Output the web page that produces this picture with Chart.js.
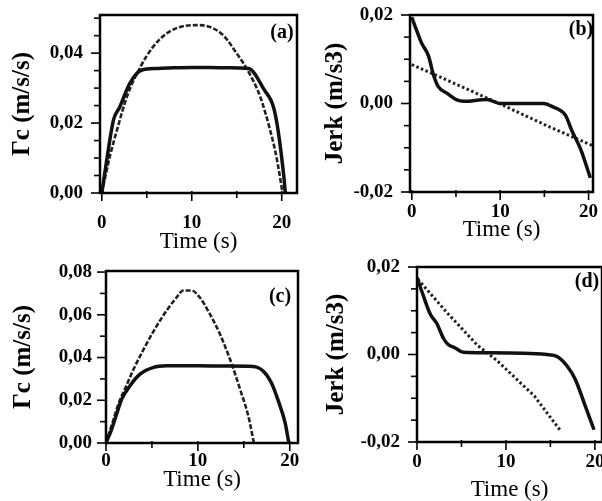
<!DOCTYPE html>
<html lang="en">
<head>
  <meta charset="UTF-8">
  <title>Γc and Jerk vs Time</title>
  <script src="https://cdn.jsdelivr.net/npm/chart.js"></script>
  <style>
    html, body { margin: 0; padding: 0; background: #fff; overflow: hidden; }
    .wrap { position: relative; width: 602px; height: 501px; }
    canvas { position: absolute; }
  </style>
</head>
<body>
  <div class="wrap">
    <canvas id="chartA" width="301" height="256" style="left:0;top:0"></canvas>
    <canvas id="chartB" width="301" height="250" style="left:301px;top:0"></canvas>
    <canvas id="chartC" width="301" height="251" style="left:0;top:250px"></canvas>
    <canvas id="chartD" width="301" height="256" style="left:301px;top:250px"></canvas>
  </div>

  <script>
    // (a) Γc, case 1
    const tSolidA = [0, 0.55, 1.3, 2.0, 3.1, 4.4, 6.1, 8, 10, 12, 14, 16.3, 17.96, 19.3, 20.2, 20.4];
    const gSolidA = [0, 0.0094, 0.0209, 0.0246, 0.0313, 0.0351, 0.0356, 0.0358, 0.0359, 0.0359, 0.0358, 0.0356, 0.0299, 0.0223, 0.0056, 0];
    const tDashA = [0, 0.9, 1.7, 2.8, 4.3, 5.7, 7.2, 8.7, 10.6, 12.0, 13.5, 15.0, 16.3, 17.6, 18.7, 19.4, 20.1];
    const gDashA = [0, 0.0105, 0.0181, 0.0276, 0.0361, 0.0418, 0.0456, 0.0475, 0.048, 0.0475, 0.0451, 0.0399, 0.0347, 0.0276, 0.0181, 0.0105, 0];

    // (b) Jerk, case 1
    const tSolidB = [0, 0.57, 1.1, 1.9, 2.45, 3.0, 4.0, 5.1, 5.85, 8.5, 10, 14.9, 16.0, 17.4, 18.1, 19.1, 20.2];
    const jSolidB = [0.0195, 0.0164, 0.0137, 0.0107, 0.0065, 0.0038, 0.0023, 0.0008, 0.0005, 0.0009, 0, 0, -0.0008, -0.0027, -0.0061, -0.0103, -0.0168];
    const tDotB = [0, 4.3, 10, 15.7, 20.4];
    const jDotB = [0.0088, 0.005, -0.0001, -0.0054, -0.0095];

    // (c) Γc, case 2
    const tSolidC = [0, 0.6, 1.2, 1.7, 2.6, 3.7, 5.1, 6.6, 10, 13, 16.0, 17.1, 18.0, 18.7, 19.5, 19.9];
    const gSolidC = [0, 0.0063, 0.0141, 0.0204, 0.0267, 0.0322, 0.0353, 0.0361, 0.0361, 0.036, 0.0358, 0.0337, 0.0282, 0.0204, 0.0094, 0];
    const tDashC = [0, 0.7, 1.4, 2.2, 3.0, 4.1, 5.2, 6.6, 7.7, 8.4, 9.3, 10.2, 11.3, 12.4, 13.5, 14.6, 15.5, 16.1];
    const gDashC = [0, 0.0094, 0.0188, 0.0267, 0.0345, 0.0439, 0.0525, 0.062, 0.0682, 0.0714, 0.0714, 0.0682, 0.0604, 0.051, 0.0392, 0.0251, 0.0125, 0];

    // (d) Jerk, case 2
    const tSolidD = [0, 0.7, 1.5, 2.2, 3.0, 3.5, 4.3, 5.2, 7.8, 14.6, 15.8, 16.9, 17.8, 18.8, 19.9];
    const jSolidD = [0.0176, 0.0135, 0.0092, 0.0072, 0.0036, 0.0023, 0.0015, 0.0005, 0.0004, 0, -0.0005, -0.0027, -0.0057, -0.0111, -0.0172];
    const tDotD = [0.1, 3.4, 6.8, 9.0, 13.2, 16.2];
    const jDotD = [0.0172, 0.0095, 0.0021, -0.0014, -0.0095, -0.0176];

    // ticks
    const xTicks = [0, 5, 10, 15, 20];
    const xLabels = [0, 10, 20];
    const yTicksA = [0, 0.005, 0.01, 0.015, 0.02, 0.025, 0.03, 0.035, 0.04, 0.045, 0.05];
    const yLabelsA = [0, 0.02, 0.04];
    const yTicksC = [0, 0.01, 0.02, 0.03, 0.04, 0.05, 0.06, 0.07, 0.08];
    const yLabelsC = [0, 0.02, 0.04, 0.06, 0.08];
    const yTicksJ = [-0.02, -0.015, -0.01, -0.005, 0, 0.005, 0.01, 0.015, 0.02];
    const yLabelsJ = [-0.02, 0, 0.02];

    const serif = '"Liberation Serif", "Times New Roman", serif';

    const pts = (ts, vs) => ts.map((t, i) => ({ x: t, y: vs[i] }));
    const fmt = v => v.toFixed(2).replace('.', ',');

    // box around the plot, outward tick marks, panel letter
    function makeFrame(p) {
      return {
        id: 'frame',
        afterDraw(chart) {
          const { ctx, chartArea: a } = chart;
          const sx = chart.scales.x, sy = chart.scales.y;
          ctx.save();
          ctx.setLineDash([]);
          ctx.strokeStyle = '#000';
          ctx.lineWidth = 1.6;
          xTicks.forEach(v => {
            const px = sx.getPixelForValue(v);
            const len = xLabels.includes(v) ? 8 : 5;
            ctx.beginPath();
            ctx.moveTo(px, a.bottom - 2);
            ctx.lineTo(px, a.bottom + len);
            ctx.stroke();
          });
          p.yTicks.forEach(v => {
            const py = sy.getPixelForValue(v);
            const len = p.yLabels.includes(v) ? 9 : 6;
            ctx.beginPath();
            ctx.moveTo(a.left + 1, py);
            ctx.lineTo(a.left - len, py);
            ctx.stroke();
          });
          ctx.lineWidth = 2.5;
          ctx.strokeRect(a.left, a.top, a.right - a.left, a.bottom - a.top);
          ctx.fillStyle = '#000';
          ctx.font = 'bold 20px ' + serif;
          ctx.textAlign = 'center';
          ctx.textBaseline = 'middle';
          ctx.fillText(p.label, p.lx, p.ly);
          ctx.restore();
        }
      };
    }

    function makePanel(id, p) {
      return new Chart(document.getElementById(id), {
        type: 'line',
        data: {
          datasets: [
            {
              data: p.solid,
              borderColor: '#111',
              borderWidth: 3.5,
              pointRadius: 0,
              cubicInterpolationMode: 'monotone'
            },
            {
              data: p.dash,
              borderColor: '#222',
              borderWidth: p.dashWidth,
              borderDash: p.dashPattern,
              pointRadius: 0,
              // the dotted jerk lines are near straight, the dashed Γc ones curve
              cubicInterpolationMode: p.dashCurve ? 'monotone' : 'default',
              tension: 0
            }
          ]
        },
        options: {
          responsive: false,
          animation: false,
          events: [],
          layout: { padding: { top: p.top, right: p.right, left: 0, bottom: 0 } },
          plugins: {
            legend: { display: false },
            tooltip: { enabled: false }
          },
          scales: {
            x: {
              type: 'linear',
              min: p.xMin,
              max: p.xMax,
              border: { display: false },
              grid: { display: false, drawTicks: false },
              ticks: {
                autoSkip: false,
                maxRotation: 0,
                padding: p.xPad,
                color: '#000',
                font: { family: serif, size: 19, weight: 'bold' },
                callback: v => xLabels.includes(v) ? String(v) : ''
              },
              title: {
                display: true,
                text: 'Time (s)',
                color: '#000',
                font: { family: serif, size: 23 },
                padding: { top: 0, bottom: p.xTitlePad }
              },
              afterBuildTicks: s => { s.ticks = xTicks.map(v => ({ value: v })); },
              afterFit: s => { s.height = p.xH; s.paddingLeft = 0; s.paddingRight = 0; }
            },
            y: {
              type: 'linear',
              min: p.yMin,
              max: p.yMax,
              border: { display: false },
              grid: { display: false, drawTicks: false },
              ticks: {
                padding: p.yPad,
                color: '#000',
                font: { family: serif, size: 19, weight: 'bold' },
                callback: v => p.yLabels.includes(v) ? fmt(v) : ''
              },
              title: {
                display: true,
                text: p.yTitle,
                color: '#000',
                font: { family: serif, size: 25, weight: 'bold' },
                padding: { top: p.yTitlePad, bottom: 0 }
              },
              afterBuildTicks: s => { s.ticks = p.yTicks.map(v => ({ value: v })); },
              afterFit: s => { s.width = p.yW; s.paddingTop = 0; s.paddingBottom = 0; }
            }
          }
        },
        plugins: [makeFrame(p)]
      });
    }

    makePanel('chartA', {
      solid: pts(tSolidA, gSolidA), dash: pts(tDashA, gDashA),
      dashWidth: 2.6, dashPattern: [5, 2], dashCurve: true,
      top: 15, right: 4, yW: 100, xH: 63,
      xMin: -0.2, xMax: 21.7, yMin: 0, yMax: 0.0509,
      yTicks: yTicksA, yLabels: yLabelsA, yTitle: 'Γc (m/s/s)',
      xPad: 19, xTitlePad: 0, yPad: 17, yTitlePad: 8,
      label: '(a)', lx: 282, ly: 33
    });

    makePanel('chartB', {
      solid: pts(tSolidB, jSolidB), dash: pts(tDotB, jDotB),
      dashWidth: 3, dashPattern: [2.5, 2.5], dashCurve: false,
      top: 15, right: 9, yW: 109, xH: 58,
      xMin: -0.2, xMax: 20.5, yMin: -0.02, yMax: 0.02,
      yTicks: yTicksJ, yLabels: yLabelsJ, yTitle: 'Jerk (m/s3)',
      xPad: 9, xTitlePad: 6, yPad: 17, yTitlePad: 20,
      label: '(b)', lx: 280, ly: 30
    });

    makePanel('chartC', {
      solid: pts(tSolidC, gSolidC), dash: pts(tDashC, gDashC),
      dashWidth: 2.6, dashPattern: [5, 2], dashCurve: true,
      top: 21, right: 3, yW: 106, xH: 58,
      xMin: 0, xMax: 20.9, yMin: 0, yMax: 0.0805,
      yTicks: yTicksC, yLabels: yLabelsC, yTitle: 'Γc (m/s/s)',
      xPad: 7, xTitlePad: 7, yPad: 14, yTitlePad: 9,
      label: '(c)', lx: 280, ly: 47
    });

    makePanel('chartD', {
      solid: pts(tSolidD, jSolidD), dash: pts(tDotD, jDotD),
      dashWidth: 3, dashPattern: [2.5, 2.5], dashCurve: false,
      top: 17, right: 0, yW: 116, xH: 64,
      xMin: 0, xMax: 20.8, yMin: -0.02, yMax: 0.02,
      yTicks: yTicksJ, yLabels: yLabelsJ, yTitle: 'Jerk (m/s3)',
      xPad: 9, xTitlePad: 2, yPad: 17, yTitlePad: 21,
      label: '(d)', lx: 286, ly: 32
    });
  </script>
</body>
</html>
